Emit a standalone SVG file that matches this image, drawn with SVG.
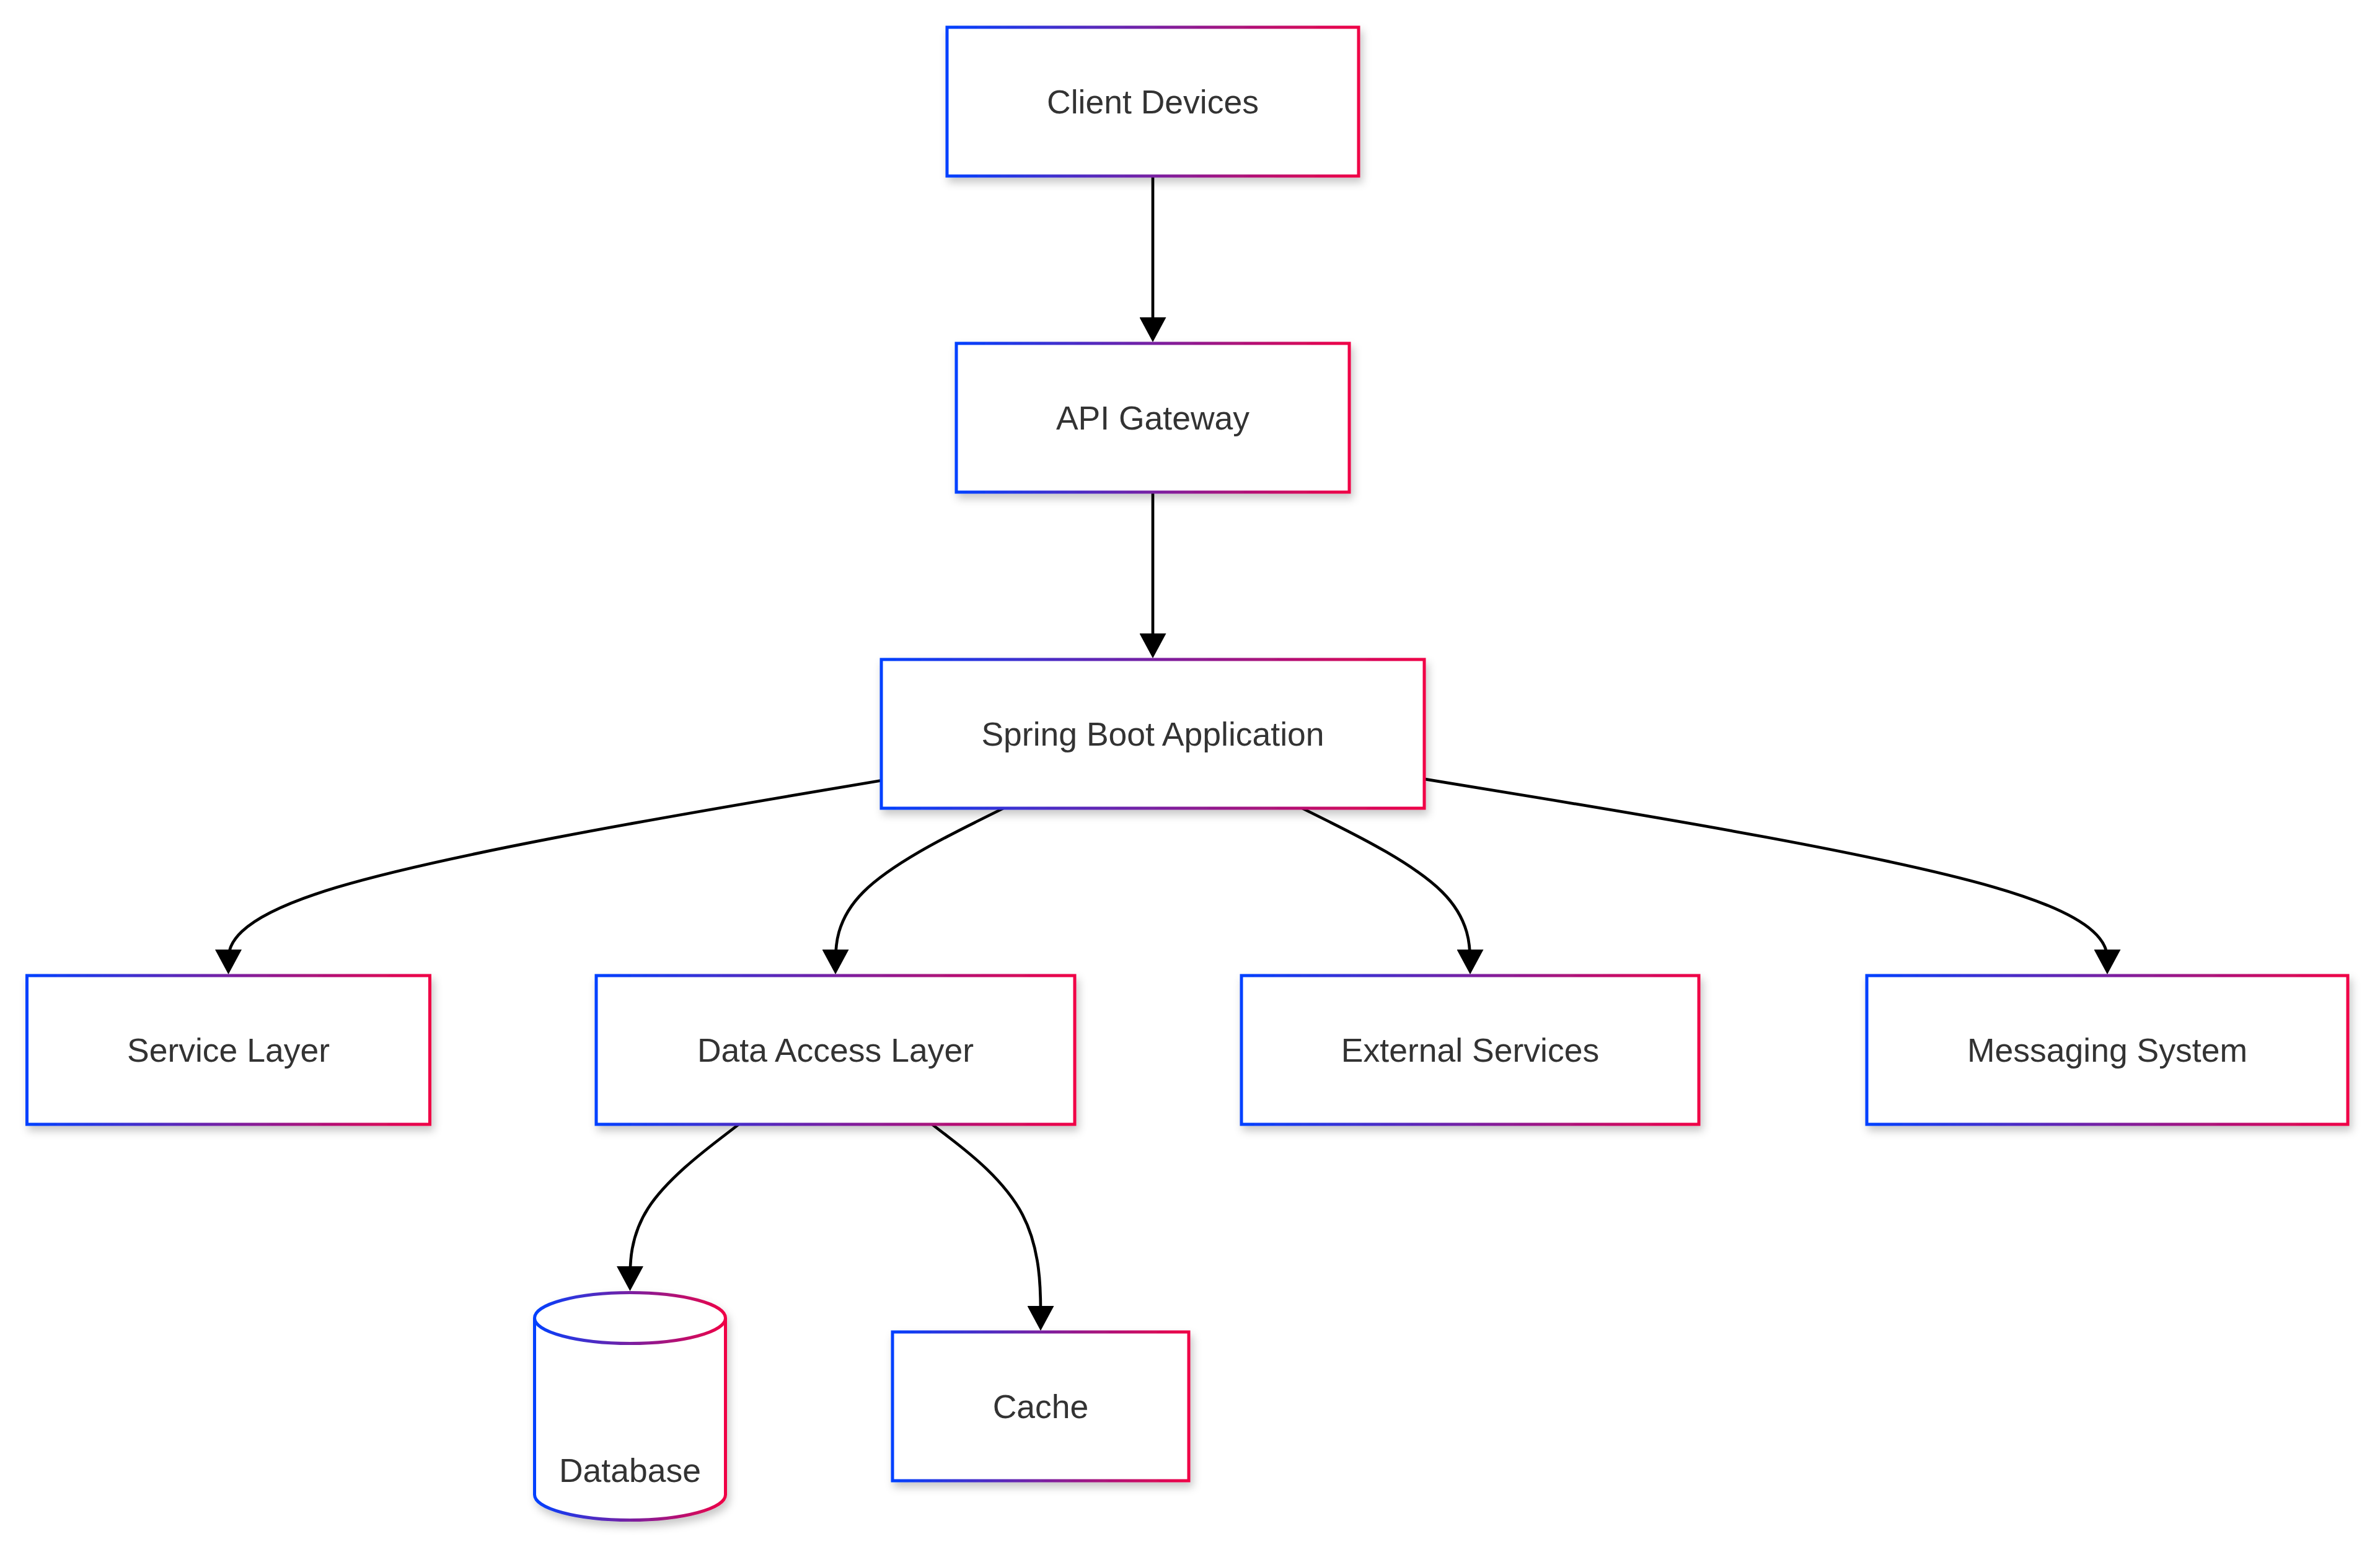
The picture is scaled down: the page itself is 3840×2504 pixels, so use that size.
<svg xmlns="http://www.w3.org/2000/svg" width="3840" height="2504" viewBox="0 0 3840 2504">
  <defs>
    <linearGradient id="edgeGrad" x1="0" y1="0" x2="1" y2="0">
      <stop offset="0" stop-color="#0040ff"/>
      <stop offset="1" stop-color="#f00045"/>
    </linearGradient>
    <filter id="nodeShadow" x="-20%" y="-30%" width="140%" height="160%">
      <feDropShadow dx="4" dy="8" stdDeviation="7" flood-color="#000" flood-opacity="0.22"/>
    </filter>
    <marker id="arrow" viewBox="0 0 40 43" refX="30" refY="21.5" markerWidth="40" markerHeight="43" markerUnits="userSpaceOnUse" orient="auto">
      <path d="M0,0 L40,21.5 L0,43 z" fill="#000"/>
    </marker>
  </defs>
  <style>
    .box { fill: #ffffff; stroke: url(#edgeGrad); stroke-width: 5; filter: url(#nodeShadow); }
    .label { font-family: "Liberation Sans", Arial, Helvetica, sans-serif; font-size: 53.5px; fill: #333333; text-anchor: middle; }
    .link { fill: none; stroke: #000000; stroke-width: 4.7; marker-end: url(#arrow); }
  </style>

  <rect width="3840" height="2504" fill="#ffffff"/>

  <!-- connectors -->
  <g id="connectors">
    <path id="e-client-api" class="link" d="M1860,284 L1860,542"/>
    <path id="e-api-spring" class="link" d="M1860,794 L1860,1052"/>
    <path id="e-spring-service" class="link" d="M1422,1259.2 L1244.75,1289.2 C1069.5,1319.1 719,1379.1 543.75,1431.5 C368.5,1484 368.5,1529 368.5,1551.5 L368.5,1562"/>
    <path id="e-spring-dal" class="link" d="M1619,1304 L1573.8,1326.5 C1528.7,1349 1438.3,1394 1393.2,1439 C1348,1484 1348,1529 1348,1551.5 L1348,1562"/>
    <path id="e-spring-ext" class="link" d="M2101,1304 L2146.2,1326.5 C2191.3,1349 2281.7,1394 2326.8,1439 C2372,1484 2372,1529 2372,1551.5 L2372,1562"/>
    <path id="e-spring-msg" class="link" d="M2298,1256.9 L2483.3,1287.25 C2666.7,1317.6 3033.3,1378.3 3216.7,1431.15 C3400,1484 3400,1529 3400,1551.5 L3400,1562"/>
    <path id="e-dal-db" class="link" d="M1192,1814 L1162.75,1836.5 C1133.5,1859 1075,1904 1045.75,1949.25 C1016.5,1994.5 1016.5,2040 1016.5,2062.75 L1016.5,2073"/>
    <path id="e-dal-cache" class="link" d="M1503.8,1814 L1533,1836.5 C1562.2,1859 1620.6,1904 1649.8,1959.8 C1679,2015.7 1679,2082.3 1679,2115.7 L1679,2137"/>
  </g>

  <!-- nodes -->
  <g id="client-devices">
    <rect class="box" x="1528" y="44" width="664" height="240"/>
    <text class="label" x="1860" y="183">Client Devices</text>
  </g>
  <g id="api-gateway">
    <rect class="box" x="1543" y="554" width="634" height="240"/>
    <text class="label" x="1860" y="693">API Gateway</text>
  </g>
  <g id="spring-boot-app">
    <rect class="box" x="1422" y="1064" width="876" height="240"/>
    <text class="label" x="1860" y="1203">Spring Boot Application</text>
  </g>
  <g id="service-layer">
    <rect class="box" x="43.5" y="1574" width="650" height="240"/>
    <text class="label" x="368.5" y="1713">Service Layer</text>
  </g>
  <g id="data-access-layer">
    <rect class="box" x="962" y="1574" width="772" height="240"/>
    <text class="label" x="1348" y="1713">Data Access Layer</text>
  </g>
  <g id="external-services">
    <rect class="box" x="2003" y="1574" width="738" height="240"/>
    <text class="label" x="2372" y="1713">External Services</text>
  </g>
  <g id="messaging-system">
    <rect class="box" x="3012" y="1574" width="776" height="240"/>
    <text class="label" x="3400" y="1713">Messaging System</text>
  </g>
  <g id="database">
    <path class="box" d="M862.5,2126.5 a154,41 0 0,0 308,0 a154,41 0 0,0 -308,0 l0,285 a154,41 0 0,0 308,0 l0,-285"/>
    <text class="label" x="1016.5" y="2391">Database</text>
  </g>
  <g id="cache">
    <rect class="box" x="1440" y="2149" width="478" height="240"/>
    <text class="label" x="1679" y="2288">Cache</text>
  </g>
</svg>
